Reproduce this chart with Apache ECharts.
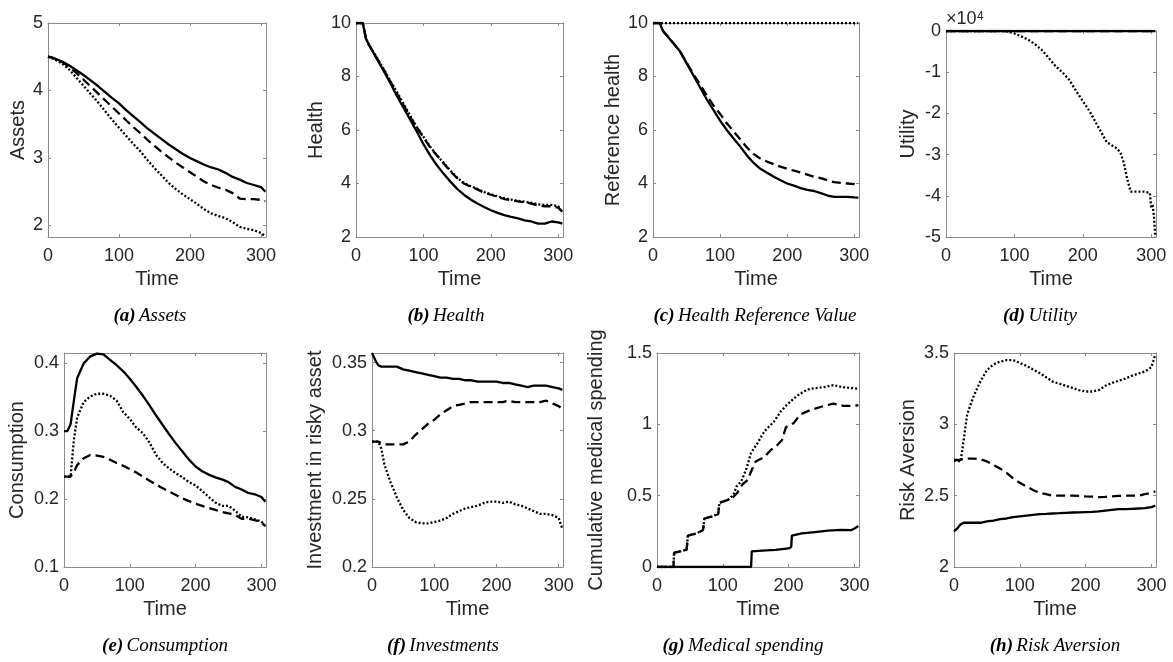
<!DOCTYPE html>
<html>
<head>
<meta charset="utf-8">
<script src="https://cdn.jsdelivr.net/npm/echarts@6/dist/echarts.min.js"></script>
<style>
html, body { margin: 0; padding: 0; background: #fff; }
#chart { width: 1173px; height: 662px; }
</style>
</head>
<body>
<div id="chart"></div>
<script>
// shared time grid
const time = [0, 5, 10, 15, 20, 30, 40, 50, 60, 70, 80, 90, 100, 110, 120, 130, 140, 150, 160, 170, 180, 190, 200, 210, 220, 230, 240, 250, 260, 270, 280, 290, 300, 306]
const timeEnds = [0, 306]

// (a) Assets
const assetsSolid = [4.50, 4.49, 4.47, 4.45, 4.43, 4.37, 4.30, 4.23, 4.15, 4.07, 3.98, 3.89, 3.81, 3.71, 3.62, 3.53, 3.44, 3.36, 3.28, 3.20, 3.13, 3.06, 3.00, 2.95, 2.90, 2.86, 2.83, 2.78, 2.72, 2.68, 2.63, 2.60, 2.57, 2.50]
const assetsDashed = [4.50, 4.49, 4.47, 4.44, 4.42, 4.35, 4.26, 4.16, 4.06, 3.96, 3.86, 3.76, 3.66, 3.56, 3.46, 3.37, 3.27, 3.18, 3.09, 3.01, 2.93, 2.86, 2.79, 2.72, 2.65, 2.60, 2.56, 2.53, 2.48, 2.40, 2.39, 2.39, 2.38, 2.36]
const assetsDotted = [4.50, 4.48, 4.46, 4.43, 4.40, 4.31, 4.19, 4.07, 3.95, 3.83, 3.70, 3.57, 3.45, 3.33, 3.21, 3.10, 2.97, 2.85, 2.74, 2.63, 2.54, 2.46, 2.39, 2.32, 2.24, 2.18, 2.14, 2.11, 2.05, 1.98, 1.95, 1.93, 1.89, 1.84]

// (b) Health
const healthSolid = [10, 10, 10, 9.4, 9.15, 8.7, 8.25, 7.8, 7.3, 6.85, 6.4, 5.95, 5.47, 5.05, 4.68, 4.36, 4.07, 3.8, 3.58, 3.4, 3.25, 3.12, 3.0, 2.9, 2.82, 2.75, 2.7, 2.62, 2.58, 2.5, 2.5, 2.58, 2.55, 2.5]
const healthDashed = [10, 10, 10, 9.4, 9.15, 8.72, 8.3, 7.85, 7.4, 6.95, 6.5, 6.1, 5.72, 5.35, 5.05, 4.75, 4.45, 4.2, 4.0, 3.88, 3.78, 3.65, 3.58, 3.5, 3.42, 3.38, 3.33, 3.3, 3.25, 3.18, 3.15, 3.15, 3.1, 2.95]
const healthDotted = [10, 10, 10, 9.4, 9.15, 8.75, 8.32, 7.88, 7.45, 7.0, 6.55, 6.12, 5.75, 5.38, 5.05, 4.78, 4.48, 4.22, 4.02, 3.9, 3.8, 3.68, 3.6, 3.52, 3.45, 3.4, 3.35, 3.32, 3.28, 3.22, 3.2, 3.2, 3.15, 2.9]

// (c) Health reference value
const refSolid = [10, 10, 10, 9.7, 9.55, 9.25, 8.95, 8.5, 8.05, 7.6, 7.15, 6.75, 6.35, 6.0, 5.68, 5.38, 5.05, 4.77, 4.55, 4.4, 4.25, 4.12, 4.0, 3.92, 3.83, 3.76, 3.72, 3.64, 3.55, 3.5, 3.5, 3.5, 3.48, 3.47]
const refDashed = [10, 10, 10, 9.7, 9.55, 9.25, 8.95, 8.52, 8.1, 7.7, 7.3, 6.92, 6.6, 6.25, 5.95, 5.65, 5.35, 5.1, 4.93, 4.82, 4.72, 4.63, 4.55, 4.48, 4.41, 4.33, 4.25, 4.2, 4.12, 4.05, 4.02, 4.0, 3.98, 3.92]
const refDotted = [10, 10]

// (d) Utility
const utilSolid = [0, 0]
const utilDashed = [0, 0]
const utilTime = [0, 80, 90, 100, 110, 120, 130, 140, 150, 160, 170, 180, 190, 200, 210, 220, 230, 235, 240, 250, 255, 260, 265, 270, 280, 290, 298, 300, 302, 304, 306]
const utilDotted = [0, 0, -100, -600, -1300, -2100, -3200, -4600, -6500, -8500, -10000, -11800, -14500, -17000, -19500, -22500, -25500, -27000, -27500, -28500, -29500, -32000, -36000, -39000, -39000, -39000, -39300, -43000, -42000, -45000, -50000]

// (e) Consumption
const consSolid = [0.30, 0.30, 0.31, 0.345, 0.378, 0.40, 0.41, 0.414, 0.413, 0.405, 0.397, 0.388, 0.377, 0.365, 0.352, 0.338, 0.323, 0.309, 0.295, 0.282, 0.27, 0.258, 0.248, 0.241, 0.236, 0.232, 0.229, 0.225, 0.218, 0.214, 0.209, 0.207, 0.203, 0.196]
const consDashed = [0.233, 0.233, 0.233, 0.24, 0.25, 0.26, 0.265, 0.264, 0.262, 0.258, 0.253, 0.249, 0.244, 0.239, 0.233, 0.227, 0.221, 0.216, 0.211, 0.206, 0.201, 0.197, 0.193, 0.19, 0.187, 0.184, 0.181, 0.179, 0.177, 0.171, 0.171, 0.169, 0.166, 0.16]
const consDotted = [0.233, 0.233, 0.233, 0.287, 0.32, 0.343, 0.351, 0.355, 0.355, 0.352, 0.345, 0.328, 0.318, 0.305, 0.297, 0.283, 0.265, 0.253, 0.245, 0.238, 0.232, 0.225, 0.22, 0.212, 0.203, 0.195, 0.19, 0.19, 0.183, 0.174, 0.173, 0.17, 0.167, 0.16]

// (f) Investment in risky asset
const invSolid = [0.357, 0.352, 0.348, 0.347, 0.347, 0.347, 0.347, 0.345, 0.344, 0.343, 0.342, 0.341, 0.340, 0.339, 0.339, 0.338, 0.338, 0.337, 0.337, 0.336, 0.336, 0.336, 0.336, 0.335, 0.335, 0.334, 0.333, 0.332, 0.333, 0.333, 0.333, 0.332, 0.331, 0.33]
const invDashed = [0.292, 0.292, 0.292, 0.291, 0.29, 0.29, 0.29, 0.29, 0.292, 0.297, 0.301, 0.305, 0.308, 0.312, 0.315, 0.318, 0.319, 0.320, 0.321, 0.321, 0.321, 0.321, 0.321, 0.321, 0.322, 0.321, 0.321, 0.321, 0.321, 0.321, 0.322, 0.32, 0.318, 0.316]
const invDotted = [0.292, 0.292, 0.292, 0.287, 0.275, 0.262, 0.251, 0.242, 0.236, 0.233, 0.232, 0.232, 0.233, 0.234, 0.236, 0.239, 0.241, 0.243, 0.244, 0.245, 0.247, 0.248, 0.248, 0.247, 0.248, 0.246, 0.245, 0.243, 0.241, 0.239, 0.239, 0.238, 0.236, 0.228]

// (g) Cumulative medical spending (step-like, own time points)
const medSolidT = [0, 143, 144, 160, 180, 200, 204, 205, 220, 240, 260, 280, 295, 300, 306]
const medSolid = [0, 0, 0.11, 0.115, 0.12, 0.13, 0.14, 0.22, 0.235, 0.245, 0.255, 0.26, 0.258, 0.27, 0.287]
const medDashedT = [0, 25, 26, 45, 47, 60, 70, 72, 85, 93, 95, 108, 116, 122, 130, 138, 143, 150, 163, 173, 183, 190, 196, 208, 218, 233, 253, 268, 283, 300, 306]
const medDashed = [0, 0, 0.1, 0.12, 0.22, 0.235, 0.26, 0.34, 0.355, 0.37, 0.45, 0.47, 0.49, 0.52, 0.58, 0.61, 0.67, 0.74, 0.77, 0.82, 0.855, 0.89, 0.98, 1.01, 1.07, 1.1, 1.128, 1.145, 1.13, 1.13, 1.135]
const medDottedT = [0, 25, 26, 45, 47, 60, 70, 72, 85, 93, 95, 108, 116, 121, 128, 136, 143, 153, 163, 178, 188, 198, 213, 223, 233, 253, 268, 283, 306]
const medDotted = [0, 0, 0.1, 0.12, 0.22, 0.235, 0.26, 0.34, 0.355, 0.375, 0.45, 0.47, 0.505, 0.565, 0.6, 0.69, 0.8, 0.87, 0.95, 1.02, 1.09, 1.14, 1.2, 1.23, 1.25, 1.26, 1.275, 1.26, 1.25]

// (h) Risk aversion
const riskSolid = [2.25, 2.27, 2.30, 2.31, 2.31, 2.31, 2.31, 2.32, 2.325, 2.335, 2.34, 2.35, 2.355, 2.36, 2.365, 2.37, 2.372, 2.375, 2.377, 2.38, 2.382, 2.383, 2.385, 2.387, 2.39, 2.395, 2.40, 2.405, 2.405, 2.408, 2.41, 2.412, 2.42, 2.43]
const riskDashed = [2.75, 2.75, 2.75, 2.76, 2.76, 2.76, 2.755, 2.74, 2.715, 2.69, 2.66, 2.62, 2.59, 2.565, 2.54, 2.52, 2.51, 2.50, 2.50, 2.50, 2.50, 2.498, 2.495, 2.493, 2.49, 2.492, 2.495, 2.498, 2.5, 2.5, 2.5, 2.51, 2.52, 2.53]
const riskDotted = [2.745, 2.745, 2.74, 2.9, 3.07, 3.2, 3.3, 3.38, 3.42, 3.44, 3.45, 3.45, 3.43, 3.41, 3.385, 3.36, 3.33, 3.3, 3.285, 3.27, 3.255, 3.24, 3.23, 3.23, 3.24, 3.27, 3.29, 3.305, 3.32, 3.34, 3.355, 3.37, 3.4, 3.49]

// tick labels
const xTicks = [0, 100, 200, 300]
const assetsTicks = [2, 3, 4, 5]
const healthTicks = [2, 4, 6, 8, 10]
const utilTicks = [-50000, -40000, -30000, -20000, -10000, 0]
const consTicks = [0.1, 0.2, 0.3, 0.4]
const invTicks = [0.2, 0.25, 0.3, 0.35]
const medTicks = [0, 0.5, 1, 1.5]
const riskTicks = [2, 2.5, 3, 3.5]

const pairs = (ts, vs) => ts.map((t, i) => [t, vs[i]])

const SANS = '"Liberation Sans", Arial, Helvetica, sans-serif'
const SERIF = '"Liberation Serif", "Times New Roman", serif'
const TEXT = '#262626'
const FRAME = '#8c8c8c'
const X_MAX = 307
const TICK_FS = 18
const NAME_FS = 20

const panels = [
  { box: [48, 23, 266, 237], min: 1.83, max: 5, ticks: assetsTicks, name: 'Assets', gap: 20,
    tag: '(a)', caption: 'Assets', cx: 150, cy: 316,
    lines: [pairs(time, assetsSolid), pairs(time, assetsDashed), pairs(time, assetsDotted)] },
  { box: [356, 23, 563, 237], min: 2, max: 10, ticks: healthTicks, name: 'Health', gap: 30,
    tag: '(b)', caption: 'Health', cx: 446, cy: 316,
    lines: [pairs(time, healthSolid), pairs(time, healthDashed), pairs(time, healthDotted)] },
  { box: [653, 23, 859, 237], min: 2, max: 10, ticks: healthTicks, name: 'Reference health', gap: 30,
    tag: '(c)', caption: 'Health Reference Value', cx: 755, cy: 316,
    lines: [pairs(time, refSolid), pairs(time, refDashed), pairs(timeEnds, refDotted)] },
  { box: [946, 31, 1156, 237], min: -50000, max: 0, ticks: utilTicks, name: 'Utility', gap: 28,
    tag: '(d)', caption: 'Utility', cx: 1040, cy: 316, fmt: v => String(v / 10000),
    lines: [pairs(timeEnds, utilSolid), pairs(timeEnds, utilDashed), pairs(utilTime, utilDotted)] },
  { box: [64, 353, 266, 567], min: 0.1, max: 0.415, ticks: consTicks, name: 'Consumption', gap: 37,
    tag: '(e)', caption: 'Consumption', cx: 165, cy: 646,
    lines: [pairs(time, consSolid), pairs(time, consDashed), pairs(time, consDotted)] },
  { box: [372, 353, 563, 567], min: 0.2, max: 0.357, ticks: invTicks, name: 'Investment in risky asset', gap: 47,
    tag: '(f)', caption: 'Investments', cx: 443, cy: 646,
    lines: [pairs(time, invSolid), pairs(time, invDashed), pairs(time, invDotted)] },
  { box: [657, 353, 859, 567], min: 0, max: 1.5, ticks: medTicks, name: 'Cumulative medical spending', gap: 51,
    tag: '(g)', caption: 'Medical spending', cx: 743, cy: 646,
    lines: [pairs(medSolidT, medSolid), pairs(medDashedT, medDashed), pairs(medDottedT, medDotted)] },
  { box: [954, 353, 1156, 567], min: 2, max: 3.5, ticks: riskTicks, name: 'Risk Aversion', gap: 36,
    tag: '(h)', caption: 'Risk Aversion', cx: 1055, cy: 646,
    lines: [pairs(time, riskSolid), pairs(time, riskDashed), pairs(time, riskDotted)] }
]

const lineTypes = ['solid', [9, 5], [2, 2]]

const frameLine = { show: true, onZero: false, lineStyle: { color: FRAME, width: 1 } }
const tick = values => ({ show: true, inside: true, length: 3, customValues: values, lineStyle: { color: FRAME } })
const label = { color: TEXT, fontSize: TICK_FS, fontFamily: SANS }
const nameStyle = { color: TEXT, fontSize: NAME_FS, fontFamily: SANS }

const grid = [], xAxis = [], yAxis = [], series = [], graphic = []

panels.forEach((p, i) => {
  const [l, t, r, b] = p.box
  grid.push({ left: l, top: t, width: r - l, height: b - t, show: false })

  xAxis.push({
    type: 'value', gridIndex: i, position: 'bottom', min: 0, max: X_MAX,
    axisLine: frameLine, axisTick: tick(xTicks), splitLine: { show: false },
    axisLabel: { ...label, margin: 10, customValues: xTicks },
    name: 'Time', nameLocation: 'middle', nameGap: 32, nameTextStyle: nameStyle
  })
  xAxis.push({
    type: 'value', gridIndex: i, position: 'top', min: 0, max: X_MAX,
    axisLine: frameLine, axisTick: tick(xTicks), splitLine: { show: false },
    axisLabel: { show: false }
  })
  yAxis.push({
    type: 'value', gridIndex: i, position: 'left', min: p.min, max: p.max,
    axisLine: frameLine, axisTick: tick(p.ticks), splitLine: { show: false },
    axisLabel: { ...label, margin: 5, customValues: p.ticks, formatter: p.fmt || (v => String(v)) },
    name: p.name, nameLocation: 'middle', nameGap: p.gap, nameTextStyle: nameStyle
  })
  yAxis.push({
    type: 'value', gridIndex: i, position: 'right', min: p.min, max: p.max,
    axisLine: frameLine, axisTick: tick(p.ticks), splitLine: { show: false },
    axisLabel: { show: false }
  })

  p.lines.forEach((d, k) => {
    series.push({
      type: 'line', xAxisIndex: 2 * i, yAxisIndex: 2 * i, data: d,
      symbol: 'none', smooth: false, animation: false, silent: true,
      lineStyle: { color: '#000', width: 2.3, type: lineTypes[k], cap: 'butt' },
      z: 3 + k
    })
  })

  graphic.push({
    type: 'text', x: p.cx, y: p.cy, silent: true,
    style: {
      text: '{b|' + p.tag + '} {i|' + p.caption + '}',
      align: 'center', verticalAlign: 'middle',
      textAlign: 'center', textVerticalAlign: 'middle',
      fill: '#000',
      rich: {
        b: { fontSize: 19, fontStyle: 'italic', fontWeight: 'bold', fontFamily: SERIF, fill: '#000' },
        i: { fontSize: 19, fontStyle: 'italic', fontFamily: SERIF, fill: '#000' }
      }
    }
  })
})

// exponent label of the utility panel
graphic.push({
  type: 'text', x: 946, y: 28, silent: true,
  style: { text: '×10', align: 'left', verticalAlign: 'bottom', textAlign: 'left', textVerticalAlign: 'bottom',
    fill: TEXT, font: TICK_FS + 'px ' + SANS }
})
graphic.push({
  type: 'text', x: 977, y: 23, silent: true,
  style: { text: '4', align: 'left', verticalAlign: 'bottom', textAlign: 'left', textVerticalAlign: 'bottom',
    fill: TEXT, font: '12px ' + SANS }
})

const chart = echarts.init(document.getElementById('chart'))
chart.setOption({
  backgroundColor: '#fff',
  animation: false,
  grid, xAxis, yAxis, series, graphic
})
</script>
</body>
</html>
